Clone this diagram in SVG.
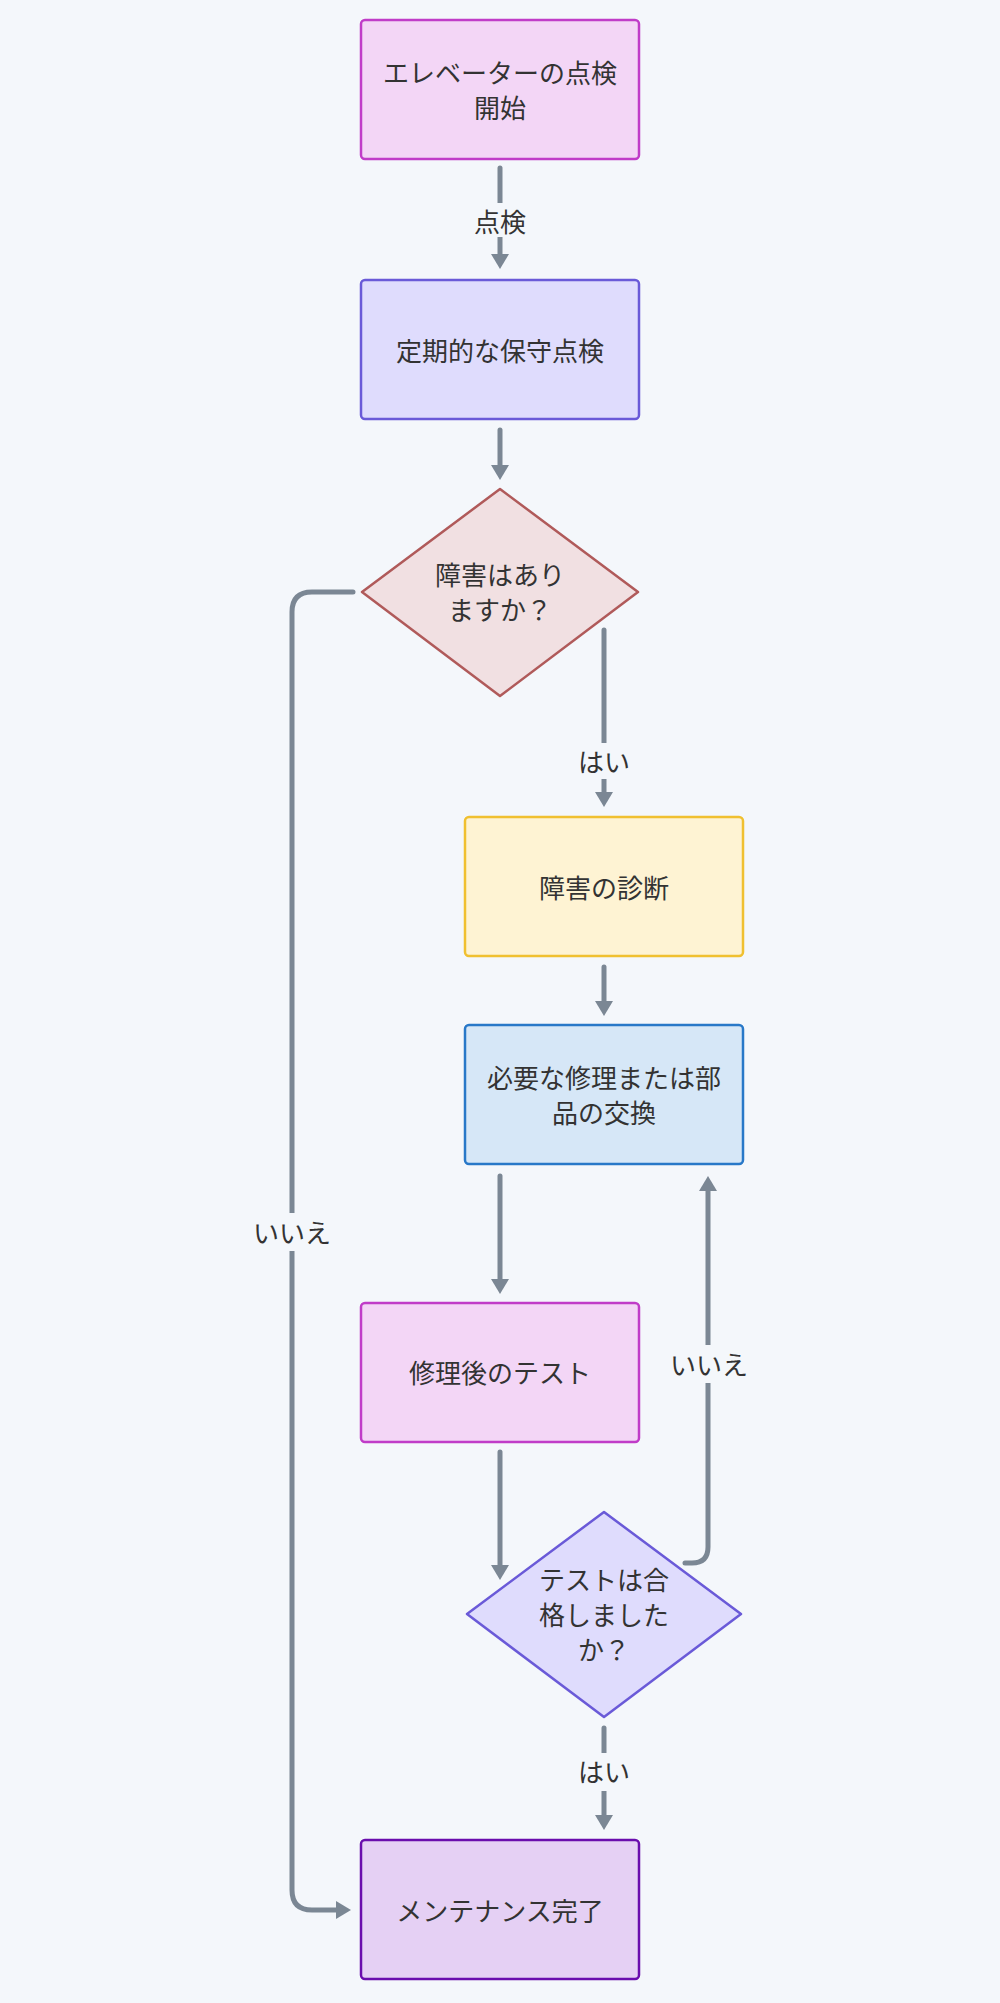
<svg xmlns="http://www.w3.org/2000/svg" width="1000" height="2003" viewBox="0 0 1000 2003">
<style>
text{font-family:"Noto Sans CJK JP","Noto Sans",sans-serif;font-size:26px;fill:#333;text-anchor:middle;dominant-baseline:central}
.e{fill:none;stroke:#7b8794;stroke-width:5;stroke-linecap:round}
.lb{fill:#f4f7fb}
.n{stroke-width:2.5}
</style>
<defs>
<marker id="ah" markerUnits="userSpaceOnUse" viewBox="0 0 15 18" markerWidth="15" markerHeight="18" refX="4" refY="9" orient="auto">
<path d="M0,0 L15,9 L0,18 z" fill="#7b8794"/>
</marker>
</defs>
<rect width="1000" height="2003" fill="#f4f7fb"/>
<g id="connectors">
<path class="e" d="M500,168 V258" marker-end="url(#ah)"/>
<rect class="lb" x="470" y="203" width="60" height="34"/>
<text x="500" y="220">点検</text>
<path class="e" d="M500,430 V469" marker-end="url(#ah)"/>
<path class="e" d="M604,630 V796" marker-end="url(#ah)"/>
<rect class="lb" x="574" y="743" width="60" height="36"/>
<text x="604" y="760">はい</text>
<path class="e" d="M353,592 H312 Q292,592 292,612 V1890 Q292,1910 312,1910 H340" marker-end="url(#ah)"/>
<rect class="lb" x="250" y="1213" width="84" height="38"/>
<text x="292" y="1231">いいえ</text>
<path class="e" d="M604,967 V1005" marker-end="url(#ah)"/>
<path class="e" d="M500,1176 V1283" marker-end="url(#ah)"/>
<path class="e" d="M500,1452 V1569" marker-end="url(#ah)"/>
<path class="e" d="M685,1563 H692 Q708,1563 708,1547 V1187" marker-end="url(#ah)"/>
<rect class="lb" x="666" y="1345" width="84" height="38"/>
<text x="709" y="1363">いいえ</text>
<path class="e" d="M604,1728 V1819" marker-end="url(#ah)"/>
<rect class="lb" x="574" y="1753" width="60" height="38"/>
<text x="604" y="1770">はい</text>
</g>
<g id="n1">
<rect class="n" x="361" y="20" width="278" height="139" rx="4" fill="#f3d6f6" stroke="#c03cc8"/>
<text x="500" y="71">エレベーターの点検</text>
<text x="500" y="106">開始</text>
</g>
<g id="n2">
<rect class="n" x="361" y="280" width="278" height="139" rx="4" fill="#dfdcfd" stroke="#6a5ad8"/>
<text x="500" y="349">定期的な保守点検</text>
</g>
<g id="d1">
<path class="n" d="M500,489 L638,592 L500,696 L362,592 Z" stroke-linejoin="round" fill="#f1e0e2" stroke="#b05a5a"/>
<text x="500" y="573">障害はあり</text>
<text x="500" y="608">ますか？</text>
</g>
<g id="n3">
<rect class="n" x="465" y="817" width="278" height="139" rx="4" fill="#fef3d3" stroke="#f0c030"/>
<text x="604" y="886">障害の診断</text>
</g>
<g id="n4">
<rect class="n" x="465" y="1025" width="278" height="139" rx="4" fill="#d6e7f7" stroke="#2878c8"/>
<text x="604" y="1076">必要な修理または部</text>
<text x="604" y="1111">品の交換</text>
</g>
<g id="n5">
<rect class="n" x="361" y="1303" width="278" height="139" rx="4" fill="#f3d6f6" stroke="#c03cc8"/>
<text x="500" y="1371">修理後のテスト</text>
</g>
<g id="d2">
<path class="n" d="M604,1512 L741,1614 L604,1717 L467,1614 Z" stroke-linejoin="round" fill="#dfdcfd" stroke="#6a5ad8"/>
<text x="604" y="1578">テストは合</text>
<text x="604" y="1613">格しました</text>
<text x="604" y="1648">か？</text>
</g>
<g id="n6">
<rect class="n" x="361" y="1840" width="278" height="139" rx="4" fill="#e5d0f4" stroke="#6a0dad"/>
<text x="500" y="1909">メンテナンス完了</text>
</g>
</svg>
